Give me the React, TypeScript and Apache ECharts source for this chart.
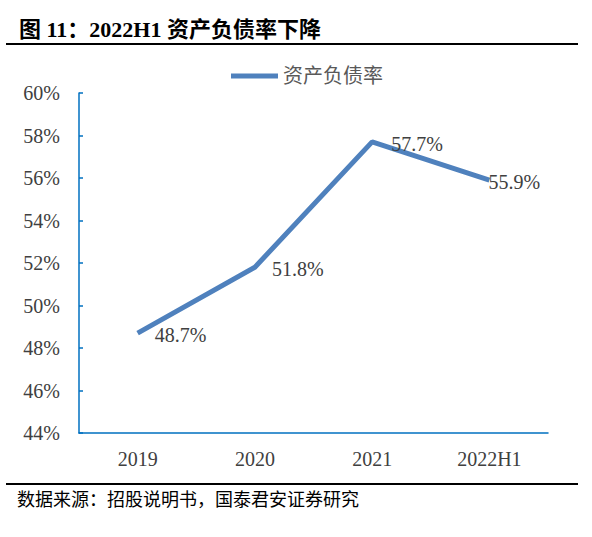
import React, { useEffect, useRef } from "react";
import * as echarts from "echarts";

const categories = ["2019", "2020", "2021", "2022H1"];
const debtRatio = [48.7, 51.8, 57.7, 55.9];
const seriesName = "资产负债率";
const titleText = "图 11：2022H1 资产负债率下降";
const sourceText = "数据来源：招股说明书，国泰君安证券研究";

const SERIF = "'Liberation Serif', 'Times New Roman', 'Noto Sans CJK SC', serif";

export default function App() {
  const ref = useRef<HTMLDivElement>(null);
  useEffect(() => {
    if (!ref.current) return;
    const chart = echarts.init(ref.current, null, { renderer: "svg" });
    const labelDistances = [17, 17, 19, -1];
    chart.setOption({
      animation: false,
      backgroundColor: "#ffffff",
      graphic: [
        {
          type: "text",
          left: 19,
          top: 18,
          style: { text: titleText, font: `bold 22px ${SERIF}`, fill: "#000" },
        },
        { type: "line", shape: { x1: 6, y1: 44, x2: 578, y2: 44 }, style: { stroke: "#000", lineWidth: 2 } },
        { type: "line", shape: { x1: 6, y1: 484, x2: 578, y2: 484 }, style: { stroke: "#000", lineWidth: 2 } },
        {
          type: "text",
          left: 17,
          top: 491,
          style: { text: sourceText, font: `18px ${SERIF}`, fill: "#000" },
        },
      ],
      legend: {
        top: 61,
        left: 226,
        itemWidth: 47,
        itemHeight: 5,
        itemGap: 5,
        icon: "rect",
        textStyle: { fontFamily: SERIF, fontSize: 20, color: "#595959" },
        data: [seriesName],
      },
      grid: { left: 79, right: 44, top: 93, bottom: 104 },
      xAxis: {
        type: "category",
        data: categories,
        boundaryGap: true,
        axisLine: { lineStyle: { color: "#0070C0", width: 1.5 } },
        axisTick: { inside: true, length: 5, lineStyle: { color: "#0070C0", width: 1.5 } },
        axisLabel: { fontFamily: SERIF, fontSize: 20, color: "#404040", margin: 16 },
      },
      yAxis: {
        type: "value",
        min: 44,
        max: 60,
        interval: 2,
        splitLine: { show: false },
        axisLine: { show: true, lineStyle: { color: "#0070C0", width: 1.5 } },
        axisTick: { show: true, inside: true, length: 4, lineStyle: { color: "#0070C0", width: 1.5 } },
        axisLabel: { fontFamily: SERIF, fontSize: 20, color: "#404040", margin: 19, formatter: "{value}%" },
      },
      series: [
        {
          name: seriesName,
          type: "line",
          data: debtRatio.map((v, i) => ({
            value: v,
            label: { distance: labelDistances[i] },
          })),
          symbol: "circle",
          symbolSize: 0,
          showSymbol: true,
          lineStyle: { color: "#4F81BD", width: 5 },
          itemStyle: { color: "#4F81BD" },
          label: {
            show: true,
            position: "right",
            fontFamily: SERIF,
            fontSize: 20,
            color: "#404040",
            offset: [0, 2],
            formatter: (p: any) => p.value.toFixed(1) + "%",
          },
        },
      ],
    });
    return () => chart.dispose();
  }, []);
  return (
    <div
      ref={ref}
      style={{ position: "fixed", left: 0, top: 0, width: 592, height: 537, background: "#fff" }}
    />
  );
}
